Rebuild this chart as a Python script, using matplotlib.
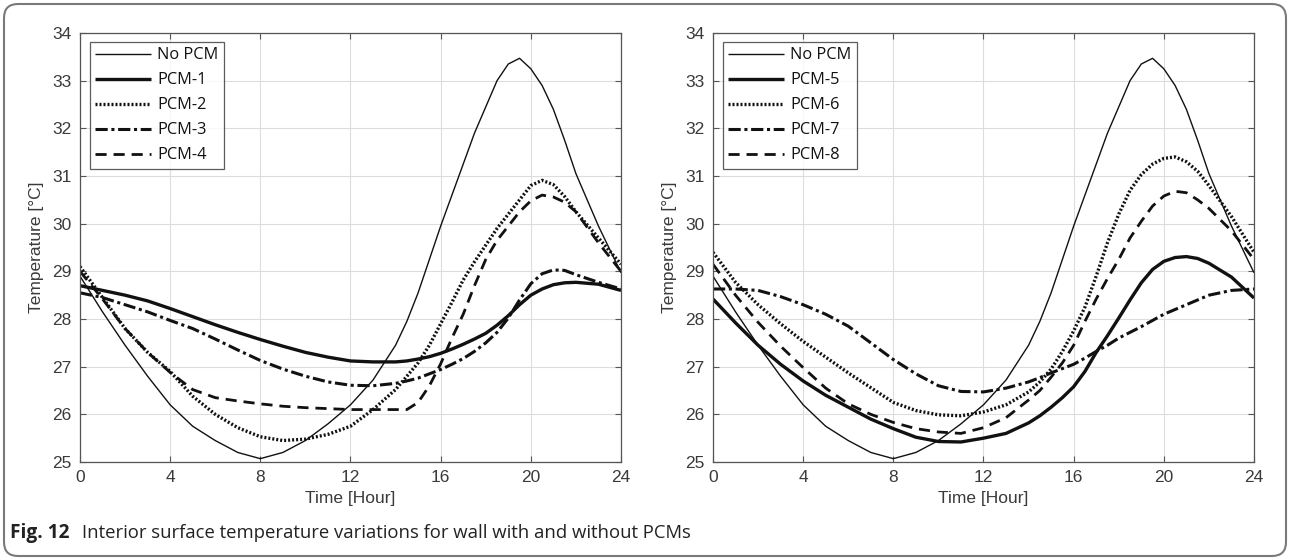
import matplotlib
matplotlib.use("Agg")
import matplotlib.pyplot as plt
from matplotlib.patches import FancyBboxPatch
from matplotlib.transforms import IdentityTransform

# time grid (hours): hourly in the morning, half-hourly through the afternoon peak
hours = [0, 1, 2, 3, 4, 5, 6, 7, 8, 9, 10, 11, 12, 13, 14,
         14.5, 15, 15.5, 16, 16.5, 17, 17.5, 18, 18.5, 19, 19.5, 20, 20.5, 21, 21.5, 22,
         23, 24]

no_pcm = [28.9, 28.15, 27.45, 26.8, 26.2, 25.75, 25.45, 25.2, 25.07, 25.2, 25.45, 25.8, 26.2, 26.72, 27.45,
          27.95, 28.55, 29.25, 29.95, 30.6, 31.25, 31.9, 32.45, 33.0, 33.35, 33.47, 33.25, 32.9, 32.4, 31.75, 31.05,
          29.95, 28.97]

pcm1 = [28.7, 28.6, 28.5, 28.38, 28.22, 28.05, 27.88, 27.72, 27.57, 27.43, 27.3, 27.2, 27.12, 27.1, 27.1,
        27.12, 27.16, 27.21, 27.28, 27.37, 27.47, 27.58, 27.7, 27.87, 28.07, 28.3, 28.5, 28.63, 28.72, 28.76, 28.77,
        28.73, 28.6]
pcm2 = [29.1, 28.45, 27.8, 27.3, 26.9, 26.38, 26.0, 25.72, 25.53, 25.45, 25.48, 25.58, 25.75, 26.1, 26.52,
        26.8, 27.08, 27.45, 27.9, 28.35, 28.82, 29.2, 29.55, 29.9, 30.2, 30.5, 30.8, 30.91, 30.82, 30.57, 30.25,
        29.7, 29.15]
pcm3 = [28.55, 28.45, 28.3, 28.15, 27.97, 27.8, 27.58, 27.35, 27.13, 26.95, 26.8, 26.68, 26.61, 26.6, 26.65,
        26.7, 26.76, 26.85, 26.94, 27.05, 27.17, 27.32, 27.5, 27.72, 28.02, 28.4, 28.74, 28.95, 29.03, 29.02, 28.93,
        28.77, 28.63]
pcm4 = [29.0, 28.42, 27.8, 27.3, 26.88, 26.52, 26.35, 26.28, 26.22, 26.17, 26.14, 26.12, 26.1, 26.1, 26.1,
        26.1, 26.25, 26.6, 27.06, 27.6, 28.1, 28.7, 29.25, 29.65, 29.95, 30.25, 30.48, 30.6, 30.56, 30.45, 30.25,
        29.6, 29.0]

pcm5 = [28.42, 27.92, 27.45, 27.05, 26.7, 26.4, 26.15, 25.9, 25.7, 25.52, 25.43, 25.42, 25.5, 25.6, 25.82,
        25.97, 26.15, 26.35, 26.58, 26.9, 27.3, 27.65, 28.02, 28.4, 28.76, 29.04, 29.21, 29.29, 29.31, 29.27, 29.17,
        28.88, 28.44]
pcm6 = [29.4, 28.77, 28.3, 27.9, 27.53, 27.2, 26.87, 26.56, 26.25, 26.08, 25.99, 25.97, 26.05, 26.2, 26.47,
        26.68, 26.95, 27.32, 27.75, 28.25, 28.9, 29.6, 30.2, 30.7, 31.03, 31.25, 31.37, 31.4, 31.3, 31.1, 30.8,
        30.15, 29.4]
pcm7 = [28.63, 28.63, 28.6, 28.47, 28.3, 28.1, 27.85, 27.5, 27.15, 26.85, 26.6, 26.48, 26.47, 26.55, 26.68,
        26.77, 26.87, 26.96, 27.05, 27.18, 27.32, 27.45, 27.6, 27.72, 27.84, 27.97, 28.1, 28.2, 28.3, 28.4, 28.5,
        28.6, 28.63]
pcm8 = [29.15, 28.5, 27.93, 27.43, 26.98, 26.55, 26.22, 26.0, 25.83, 25.7, 25.63, 25.6, 25.72, 25.93, 26.3,
        26.5, 26.78, 27.08, 27.45, 27.95, 28.42, 28.85, 29.25, 29.7, 30.05, 30.37, 30.58, 30.68, 30.65, 30.5, 30.32,
        29.85, 29.25]

left_series = [("No PCM", no_pcm), ("PCM-1", pcm1), ("PCM-2", pcm2),
               ("PCM-3", pcm3), ("PCM-4", pcm4)]
right_series = [("No PCM", no_pcm), ("PCM-5", pcm5), ("PCM-6", pcm6),
                ("PCM-7", pcm7), ("PCM-8", pcm8)]

styles = [dict(ls="-", lw=1.0),
          dict(ls="-", lw=2.4),
          dict(ls=(0, (0.6, 0.6)), lw=2.4),
          dict(ls=(0, (4, 1.2, 1, 1.2)), lw=2.2),
          dict(ls=(0, (4, 2.5)), lw=2.0)]

xticks = [0, 4, 8, 12, 16, 20, 24]
yticks = [25, 26, 27, 28, 29, 30, 31, 32, 33, 34]

txt = "#3a3a3a"
tick_font = "Liberation Sans"

fig = plt.figure(figsize=(12.9, 5.6), dpi=100)
fig.patch.set_facecolor("white")

positions = [[0.062, 0.175, 0.4194, 0.766], [0.5527, 0.175, 0.4194, 0.766]]

for pos, series in zip(positions, [left_series, right_series]):
    ax = fig.add_axes(pos)
    for (name, vals), st in zip(series, styles):
        ax.plot(hours, vals, color="#111111", label=name,
                solid_capstyle="butt", dash_capstyle="butt",
                solid_joinstyle="round", **st)
    ax.set_xlim(0, 24)
    ax.set_ylim(25, 34)
    ax.set_xticks(xticks)
    ax.set_yticks(yticks)
    ax.grid(True, color="#dddddd", lw=0.8)
    ax.set_axisbelow(True)
    ax.tick_params(direction="in", length=4, top=True, right=True,
                   color="#555555", labelcolor=txt, labelsize=12.5, pad=6)
    for lab in ax.get_xticklabels() + ax.get_yticklabels():
        lab.set_fontfamily(tick_font)
    for sp in ax.spines.values():
        sp.set_color("#555555")
        sp.set_linewidth(0.9)
    ax.set_xlabel("Time [Hour]", fontsize=12.5, color=txt, family=tick_font, labelpad=4)
    ax.set_ylabel("Temperature [°C]", fontsize=12.5, color=txt, family=tick_font, labelpad=6)
    leg = ax.legend(loc="upper left", bbox_to_anchor=(0.018, 0.98), frameon=True,
                    fancybox=False, handlelength=3.4, handletextpad=0.35,
                    borderpad=0.35, labelspacing=0.55, borderaxespad=0,
                    prop={"family": "Open Sans", "size": 11.8})
    leg.get_frame().set_edgecolor("#333333")
    leg.get_frame().set_linewidth(0.9)
    for t in leg.get_texts():
        t.set_color("#111111")

# caption
fig.text(10 / 1290, 1 - 533 / 560, "Fig. 12", fontsize=13.8, fontweight="bold",
         family="Open Sans", color="#222222", va="center")
fig.text(82 / 1290, 1 - 533 / 560,
         "Interior surface temperature variations for wall with and without PCMs",
         fontsize=13.3, family="Open Sans", color="#222222", va="center")

# rounded outer frame
frame = FancyBboxPatch((4, 4), 1282, 552, boxstyle="round,pad=0,rounding_size=14",
                       transform=IdentityTransform(), fill=False,
                       edgecolor="#7a7a7a", lw=1.5)
fig.patches.append(frame)

fig.savefig("out.png", dpi=100)
